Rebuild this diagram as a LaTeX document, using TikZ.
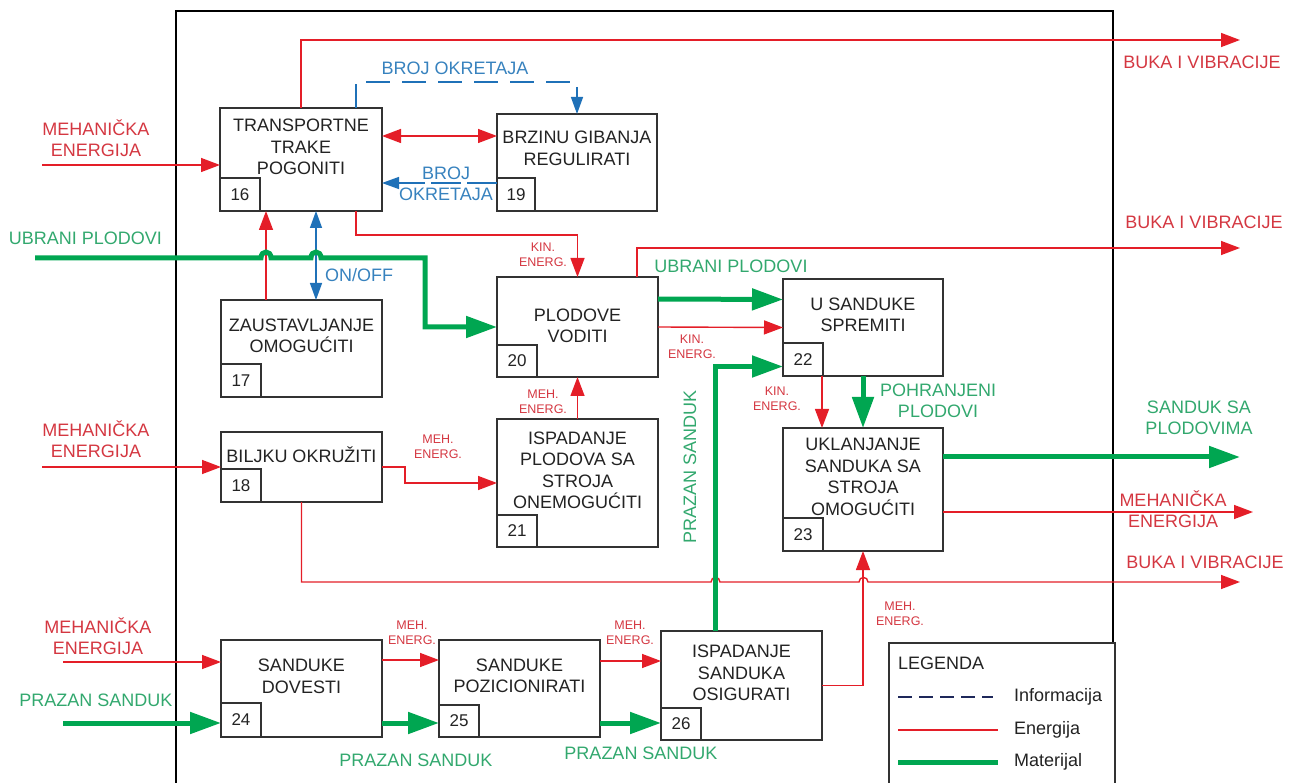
\documentclass[tikz,border=0pt]{standalone}
\usepackage{fontspec}
\setmainfont{Liberation Sans}
\usetikzlibrary{arrows.meta}
\definecolor{enred}{RGB}{228,30,40}
\definecolor{redtxt}{RGB}{212,55,65}
\definecolor{matgreen}{RGB}{0,166,81}
\definecolor{greentxt}{RGB}{50,168,110}
\definecolor{infblue}{RGB}{31,113,184}
\definecolor{bluetxt}{RGB}{55,130,190}
\definecolor{boxc}{RGB}{50,50,50}
\definecolor{txt}{RGB}{35,35,35}
\definecolor{navy}{RGB}{30,40,90}
\tikzset{
  fbox/.style={draw=boxc, line width=1.7pt, fill=white, inner sep=0pt, outer sep=0pt},
  nbox/.style={draw=boxc, line width=1.7pt, minimum width=40pt, minimum height=33pt, inner sep=0pt, outer sep=0pt, anchor=south west, font=\fontsize{17}{20}\selectfont, text=txt},
  btext/.style={align=center, font=\fontsize{18}{21.5}\selectfont, text=txt, inner sep=0pt},
  rlab/.style={align=center, font=\fontsize{18}{21}\selectfont, text=redtxt, inner sep=0pt},
  glab/.style={align=center, font=\fontsize{18}{21}\selectfont, text=greentxt, inner sep=0pt},
  blab/.style={align=center, font=\fontsize{18}{21}\selectfont, text=bluetxt, inner sep=0pt},
  slab/.style={align=center, font=\fontsize{12.5}{15}\selectfont, text=redtxt, inner sep=0pt},
  enline/.style={draw=enred, line width=1.4pt},
  enarrow/.style={enline, -{Triangle[length=19pt,width=14pt]}},
  enboth/.style={enline, {Triangle[length=19pt,width=14pt]}-{Triangle[length=19pt,width=14pt]}},
  matline/.style={draw=matgreen, line width=5pt},
  matarrow/.style={matline, -{Triangle[length=31pt,width=21pt]}},
  infline/.style={draw=infblue, line width=1.4pt},
  infarrow/.style={infline, -{Triangle[length=17pt,width=12pt]}},
  infboth/.style={infline, {Triangle[length=17pt,width=12pt]}-{Triangle[length=17pt,width=12pt]}},
  infdash/.style={dash pattern=on 24pt off 12pt},
  legtext/.style={anchor=west, font=\fontsize{18}{21}\selectfont, text=txt, inner sep=0pt},
}
\begin{document}
\begin{tikzpicture}[x=1pt,y=-1pt]
\useasboundingbox (0,0) rectangle (1299,783);
\clip (0,0) rectangle (1299,783);
% system boundary
\draw[draw=black, line width=1.4pt] (176,11) rectangle (1113,820);

% free-end coordinates
\coordinate (inA) at (42,165);
\coordinate (inB) at (35,258);
\coordinate (inC) at (42,467);
\coordinate (inD) at (63,662);
\coordinate (inE) at (63,723);
\coordinate (outA) at (1240,40);
\coordinate (outB) at (1240,248);
\coordinate (outC) at (1240,457);
\coordinate (outD) at (1253,512);
\coordinate (outE) at (1240,582);

% function boxes
\node[fbox, minimum width=162pt, minimum height=103pt] (b16) at (301,159.5) {};
\node[fbox, minimum width=161pt, minimum height=97pt] (b17) at (301.5,348.5) {};
\node[fbox, minimum width=161pt, minimum height=70pt] (b18) at (301.5,467) {};
\node[fbox, minimum width=160pt, minimum height=97pt] (b19) at (577,162.5) {};
\node[fbox, minimum width=161pt, minimum height=100pt] (b20) at (577.5,327) {};
\node[fbox, minimum width=161pt, minimum height=128pt] (b21) at (577.5,483) {};
\node[fbox, minimum width=160pt, minimum height=97pt] (b22) at (863,327.5) {};
\node[fbox, minimum width=160pt, minimum height=123pt] (b23) at (863,489.5) {};
\node[fbox, minimum width=161pt, minimum height=97pt] (b24) at (301.5,688.5) {};
\node[fbox, minimum width=161pt, minimum height=97pt] (b25) at (519.5,688.5) {};
\node[fbox, minimum width=161pt, minimum height=109pt] (b26) at (741.5,685.5) {};

\node[btext] (t16) at (301,147) {TRANSPORTNE\\TRAKE\\POGONITI};
\node[btext] (t17) at (301.5,336) {ZAUSTAVLJANJE\\OMOGUĆITI};
\node[btext] (t18) at (301.5,455) {BILJKU OKRUŽITI};
\node[btext] (t19) at (577,148.5) {BRZINU GIBANJA\\REGULIRATI};
\node[btext] (t20) at (577.5,326) {PLODOVE\\VODITI};
\node[btext] (t21) at (577.5,470.5) {ISPADANJE\\PLODOVA SA\\STROJA\\ONEMOGUĆITI};
\node[btext] (t22) at (863,315) {U SANDUKE\\SPREMITI};
\node[btext] (t23) at (863,477) {UKLANJANJE\\SANDUKA SA\\STROJA\\OMOGUĆITI};
\node[btext] (t24) at (301.5,676.5) {SANDUKE\\DOVESTI};
\node[btext] (t25) at (519.5,676) {SANDUKE\\POZICIONIRATI};
\node[btext] (t26) at (741.5,673) {ISPADANJE\\SANDUKA\\OSIGURATI};

\node[nbox] (n16) at (b16.south west) {16};
\node[nbox] (n17) at (b17.south west) {17};
\node[nbox] (n18) at (b18.south west) {18};
\node[nbox, minimum width=38pt] (n19) at (b19.south west) {19};
\node[nbox, minimum height=32pt] (n20) at (b20.south west) {20};
\node[nbox, minimum height=32pt] (n21) at (b21.south west) {21};
\node[nbox] (n22) at (b22.south west) {22};
\node[nbox] (n23) at (b23.south west) {23};
\node[nbox, minimum height=34pt] (n24) at (b24.south west) {24};
\node[nbox, minimum height=32pt] (n25) at (b25.south west) {25};
\node[nbox, minimum height=32pt] (n26) at (b26.south west) {26};

% ---- energy flows
\draw[enarrow] (inA) -- ([yshift=-5.5pt]b16.west);
\draw[enarrow] (b16.north) -- ++(0,-68) -- (outA);
\draw[enboth] ([yshift=23.5pt]b16.east) -- ([yshift=26.5pt]b19.west);
\draw[enarrow] ([xshift=55pt]b16.south) -- ++(0,24) -| (b20.north);
\draw[enarrow] ([xshift=-35.5pt]b17.north) -- ([xshift=-35pt]b16.south);
\draw[enarrow] ([xshift=59.5pt]b20.north) |- (outB);
\draw[enarrow] (b20.east) -- (b22.west);
\draw[enarrow] (inC) -- (b18.west);
\draw[enarrow] (b18.east) -- ++(23,0) |- (b21.west);
\draw[enarrow] (b21.north) -- (b20.south);
\draw[enarrow] ([xshift=-41pt]b22.south) -- ([xshift=-41pt]b23.north);
\draw[enarrow] ([yshift=-22.5pt]b23.east) -- (outD);
\draw[enarrow] (inD) -- ([yshift=26.5pt]b24.west);
\draw[enarrow] ([yshift=28.5pt]b24.east) -- ([yshift=28.5pt]b25.west);
\draw[enarrow] ([yshift=27.5pt]b25.east) -- ([yshift=24.5pt]b26.west);
\draw[enarrow] (b26.east) -| (b23.south);
\draw[enarrow] (b18.south) -- (301.5,582) -- (711,582)
  .. controls (711,576) and (720,576) .. (720,582) -- (859,582)
  .. controls (859,576) and (868,576) .. (868,582) -- (outE);

% ---- information flows
\draw[infboth] ([xshift=14.5pt]b17.north) -- ([xshift=15pt]b16.south);
\draw[infarrow, infdash] ([xshift=55pt]b16.north) -- ++(0,-26) -| (b19.north);
\draw[infarrow, dash pattern=on 30pt off 6pt] ([yshift=-20.5pt]b19.west) -- ([yshift=-23.5pt]b16.east);

% ---- material flows
\draw[matarrow] (inB) -- (261,258) .. controls (261,250) and (271,250) .. (271,258)
  -- (311,258) .. controls (311,250) and (321,250) .. (321,258)
  -- (425,258) -- (425,327) -- (b20.west);
\draw[matarrow] ([yshift=28pt]b20.east) -- ([yshift=28pt]b22.west);
\draw[matarrow] ([xshift=-26.5pt]b26.north) |- ([yshift=-39pt]b22.west);
\draw[matarrow] (b22.south) -- (b23.north);
\draw[matarrow] ([yshift=32.5pt]b23.east) -- (outC);
\draw[matarrow] (inE) -- ([yshift=-34.5pt]b24.west);
\draw[matarrow] ([yshift=-34.5pt]b24.east) -- ([yshift=-34.5pt]b25.west);
\draw[matarrow] ([yshift=-34.5pt]b25.east) -- ([yshift=-37.5pt]b26.west);

% ---- labels
\node[rlab] (lA) at (96,138.5) {MEHANIČKA\\ENERGIJA};
\node[glab] (lB) at (85.5,238) {UBRANI PLODOVI};
\node[rlab] (lC) at (96,439) {MEHANIČKA\\ENERGIJA};
\node[rlab] (lD) at (98,636) {MEHANIČKA\\ENERGIJA};
\node[glab] (lE) at (96,700) {PRAZAN SANDUK};
\node[rlab] (lF) at (1202,62) {BUKA I VIBRACIJE};
\node[rlab] (lG) at (1204,222) {BUKA I VIBRACIJE};
\node[rlab] (lH) at (1205,562) {BUKA I VIBRACIJE};
\node[glab] (lI) at (1199,417.5) {SANDUK SA\\PLODOVIMA};
\node[rlab] (lJ) at (1173,509) {MEHANIČKA\\ENERGIJA};
\node[blab] (lK) at (455,68) {BROJ OKRETAJA};
\node[blab] (lL) at (446,184) {BROJ\\OKRETAJA};
\node[blab, anchor=west] (lM) at (325,275) {ON/OFF};
\node[glab] (lN) at (731,266) {UBRANI PLODOVI};
\node[glab, rotate=90] (lO) at (690,467) {PRAZAN SANDUK};
\node[glab] (lP) at (938,401) {POHRANJENI\\PLODOVI};
\node[glab] (lQ) at (416,760) {PRAZAN SANDUK};
\node[glab] (lR) at (641,753) {PRAZAN SANDUK};
\node[slab] (sA) at (543,254.5) {KIN.\\ENERG.};
\node[slab] (sB) at (692,347) {KIN.\\ENERG.};
\node[slab] (sC) at (543,401.5) {MEH.\\ENERG.};
\node[slab] (sD) at (438,446.5) {MEH.\\ENERG.};
\node[slab] (sE) at (777,398.5) {KIN.\\ENERG.};
\node[slab] (sF) at (412,632.5) {MEH.\\ENERG.};
\node[slab] (sG) at (630,632.5) {MEH.\\ENERG.};
\node[slab] (sH) at (900,614) {MEH.\\ENERG.};

% ---- legend
\node[draw=boxc, line width=1.7pt, fill=white, minimum width=226pt, minimum height=180pt, anchor=north west, inner sep=0pt, outer sep=0pt] (leg) at (889,643) {};
\node[legtext] (legT) at (898,663) {LEGENDA};
\coordinate (lg1a) at (898,697);
\coordinate (lg1b) at (993,697);
\coordinate (lg2a) at (898,730);
\coordinate (lg2b) at (998,730);
\coordinate (lg3a) at (898,762);
\coordinate (lg3b) at (998,762);
\draw[draw=navy, line width=1.4pt, dash pattern=on 14pt off 7pt] (lg1a) -- (lg1b);
\draw[enline] (lg2a) -- (lg2b);
\draw[matline] (lg3a) -- (lg3b);
\node[legtext] (legI) at (1014,697) {Informacija};
\node[legtext] (legE) at (1014,730) {Energija};
\node[legtext] (legM) at (1014,762) {Materijal};
\end{tikzpicture}
\end{document}
